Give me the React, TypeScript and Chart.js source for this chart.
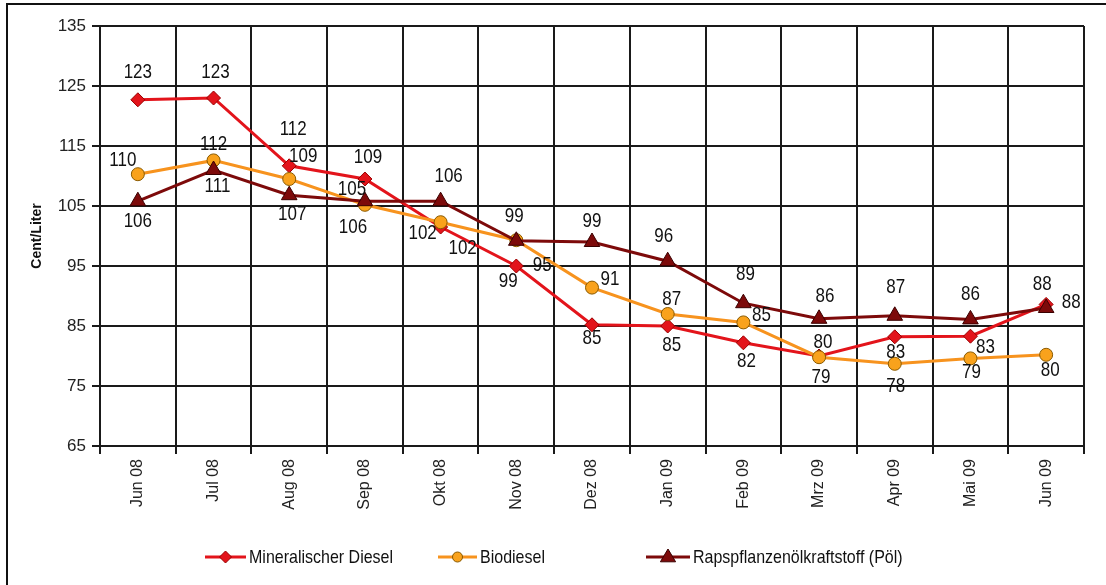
import { useEffect, useRef } from 'react';
import { Chart, registerables } from 'chart.js';

Chart.register(...registerables);

const categories = ['Jun 08', 'Jul 08', 'Aug 08', 'Sep 08', 'Okt 08', 'Nov 08', 'Dez 08', 'Jan 09', 'Feb 09', 'Mrz 09', 'Apr 09', 'Mai 09', 'Jun 09'];

const dieselValues = [122.7, 123.0, 111.7, 109.5, 101.5, 95.0, 85.2, 85.0, 82.2, 80.0, 83.2, 83.3, 88.6];
const biodieselValues = [110.3, 112.6, 109.5, 105.2, 102.3, 99.3, 91.4, 87.0, 85.6, 79.8, 78.7, 79.6, 80.2];
const poelValues = [105.8, 111.0, 106.8, 105.8, 105.8, 99.2, 99.0, 95.8, 88.8, 86.2, 86.7, 86.1, 88.0];

const dieselLabels = ['123', '123', '112', '109', '102', '99', '85', '85', '82', '79', '83', '83', '88'];
const biodieselLabels = ['110', '112', '109', '105', '102', '95', '91', '87', '85', '80', '78', '79', '80'];
const poelLabels = ['106', '111', '107', '106', '106', '99', '99', '96', '89', '86', '87', '86', '88'];

const dieselLabelOffsets = [[0, -27], [2, -25], [4, -36], [3, -21], [22, 22], [-8, 16], [0, 14], [4, 20], [3, 19], [2, 22], [1, 16], [15, 11], [25, -2]];
const biodieselLabelOffsets = [[-15, -14], [0, -16], [14, -22], [-13, -15], [-18, 11], [26, 25], [18, -8], [4, -14], [18, -7], [4, -15], [1, 23], [1, 14], [4, 16]];
const poelLabelOffsets = [[0, 20], [4, 17], [3, 19], [-12, 26], [8, -25], [-2, -24], [0, -20], [-4, -25], [2, -29], [6, -22], [1, -28], [0, -25], [-4, -23]];

const yTicks = [65, 75, 85, 95, 105, 115, 125, 135];

const FONT = '"Liberation Sans", Arial, sans-serif';

const RED = '#e3141b';
const ORANGE = '#f7931e';
const BROWN = '#7d0a0a';

const labelSets = [
  { texts: dieselLabels, offsets: dieselLabelOffsets },
  { texts: biodieselLabels, offsets: biodieselLabelOffsets },
  { texts: poelLabels, offsets: poelLabelOffsets },
];

function drawMarker(ctx: CanvasRenderingContext2D, style: string, x: number, y: number, r: number, fill: string, border: string) {
  ctx.beginPath();
  if (style === 'diamond') {
    ctx.moveTo(x, y - r);
    ctx.lineTo(x + r, y);
    ctx.lineTo(x, y + r);
    ctx.lineTo(x - r, y);
    ctx.closePath();
  } else if (style === 'circle') {
    ctx.arc(x, y, r, 0, Math.PI * 2);
  } else {
    ctx.moveTo(x, y - r);
    ctx.lineTo(x + r * 0.95, y + r * 0.6);
    ctx.lineTo(x - r * 0.95, y + r * 0.6);
    ctx.closePath();
  }
  ctx.fillStyle = fill;
  ctx.fill();
  ctx.strokeStyle = border;
  ctx.lineWidth = 1;
  ctx.stroke();
}

const decorPlugin = {
  id: 'decor',
  beforeDraw(chart: any) {
    const ctx = chart.ctx;
    ctx.save();
    ctx.fillStyle = '#ffffff';
    ctx.fillRect(0, 0, chart.width, chart.height);
    ctx.restore();
  },
  afterDraw(chart: any) {
    const ctx = chart.ctx;
    ctx.save();
    // outer frame
    ctx.strokeStyle = '#111';
    ctx.lineWidth = 2;
    ctx.strokeRect(7, 4, chart.width + 20, chart.height + 20);

    // axis title
    ctx.save();
    ctx.translate(37, 236);
    ctx.rotate(-Math.PI / 2);
    ctx.font = `bold 14px ${FONT}`;
    ctx.fillStyle = '#111';
    ctx.textAlign = 'center';
    ctx.textBaseline = 'middle';
    ctx.fillText('Cent/Liter', 0, 0);
    ctx.restore();

    // data labels
    ctx.font = `17px ${FONT}`;
    ctx.fillStyle = '#111';
    ctx.textAlign = 'center';
    ctx.textBaseline = 'middle';
    chart.data.datasets.forEach((ds: any, di: number) => {
      const meta = chart.getDatasetMeta(di);
      const set = labelSets[di];
      meta.data.forEach((pt: any, i: number) => {
        const [dx, dy] = set.offsets[i];
        ctx.save();
        ctx.translate(pt.x + dx, pt.y + dy);
        ctx.scale(1, 1.15);
        ctx.fillText(set.texts[i], 0, 0);
        ctx.restore();
      });
    });

    // legend
    const ly = 557;
    const items = [
      { x1: 205, x2: 246, text: 'Mineralischer Diesel', color: RED, style: 'diamond', fill: RED, border: '#9a0000', r: 6 },
      { x1: 438, x2: 477, text: 'Biodiesel', color: ORANGE, style: 'circle', fill: '#f9a21c', border: '#8a5a00', r: 5 },
      { x1: 646, x2: 690, text: 'Rapspflanzenölkraftstoff (Pöl)', color: BROWN, style: 'triangle', fill: BROWN, border: '#3a0000', r: 8 },
    ];
    ctx.font = `16px ${FONT}`;
    ctx.textAlign = 'left';
    ctx.textBaseline = 'middle';
    items.forEach((it) => {
      ctx.strokeStyle = it.color;
      ctx.lineWidth = 3;
      ctx.beginPath();
      ctx.moveTo(it.x1, ly);
      ctx.lineTo(it.x2, ly);
      ctx.stroke();
      drawMarker(ctx, it.style, (it.x1 + it.x2) / 2, ly, it.r, it.fill, it.border);
      ctx.fillStyle = '#111';
      ctx.save();
      ctx.translate(it.x2 + 3, ly + 1);
      ctx.scale(1, 1.12);
      ctx.fillText(it.text, 0, 0);
      ctx.restore();
    });
    ctx.restore();
  },
};

export default function App() {
  const ref = useRef<HTMLCanvasElement>(null);

  useEffect(() => {
    if (!ref.current) return;
    const chart = new Chart(ref.current, {
      type: 'line',
      data: {
        labels: categories,
        datasets: [
          {
            label: 'Mineralischer Diesel',
            data: dieselValues,
            borderColor: RED,
            backgroundColor: RED,
            borderWidth: 3,
            pointStyle: 'rectRot',
            pointRadius: 7,
            pointBackgroundColor: RED,
            pointBorderColor: '#9a0000',
            pointBorderWidth: 1,
            tension: 0,
            order: 2,
          },
          {
            label: 'Biodiesel',
            data: biodieselValues,
            borderColor: ORANGE,
            backgroundColor: ORANGE,
            borderWidth: 3,
            pointStyle: 'circle',
            pointRadius: 6.5,
            pointBackgroundColor: '#f9a21c',
            pointBorderColor: '#8a5a00',
            pointBorderWidth: 1,
            tension: 0,
            order: 1,
          },
          {
            label: 'Rapspflanzenölkraftstoff (Pöl)',
            data: poelValues,
            borderColor: BROWN,
            backgroundColor: BROWN,
            borderWidth: 3,
            pointStyle: 'triangle',
            pointRadius: 9,
            pointBackgroundColor: BROWN,
            pointBorderColor: '#3a0000',
            pointBorderWidth: 1,
            tension: 0,
            order: 0,
          },
        ],
      },
      options: {
        animation: false,
        responsive: false,
        maintainAspectRatio: false,
        layout: { padding: { left: 0, top: 26, right: 22, bottom: 0 } },
        plugins: {
          legend: { display: false },
          tooltip: { enabled: false },
          title: { display: false },
        },
        scales: {
          x: {
            type: 'category',
            offset: true,
            grid: {
              offset: true,
              color: (c: any) => (c.index === categories.length ? '#999' : '#1a1a1a'),
              lineWidth: 2,
              tickLength: 8,
              drawTicks: true,
            },
            border: { color: '#1a1a1a', width: 2 },
            ticks: {
              minRotation: 90,
              maxRotation: 90,
              autoSkip: false,
              padding: 5,
              color: '#222',
              font: { family: FONT, size: 16 },
            },
            afterFit: (scale: any) => {
              scale.height = 139;
            },
          },
          y: {
            min: 65,
            max: 135,
            afterBuildTicks: (scale: any) => {
              scale.ticks = yTicks.map((v) => ({ value: v }));
            },
            grid: {
              color: '#1a1a1a',
              lineWidth: 2,
              tickLength: 8,
            },
            border: { color: '#1a1a1a', width: 2 },
            ticks: {
              padding: 6,
              color: '#222',
              font: { family: FONT, size: 17 },
            },
            afterFit: (scale: any) => {
              scale.width = 100;
            },
          },
        },
      },
      plugins: [decorPlugin],
    } as any);
    return () => chart.destroy();
  }, []);

  return (
    <div style={{ position: 'fixed', left: 0, top: 0, width: 1106, height: 585, background: '#fff' }}>
      <canvas ref={ref} width={1106} height={585} style={{ width: 1106, height: 585, display: 'block' }} />
    </div>
  );
}
